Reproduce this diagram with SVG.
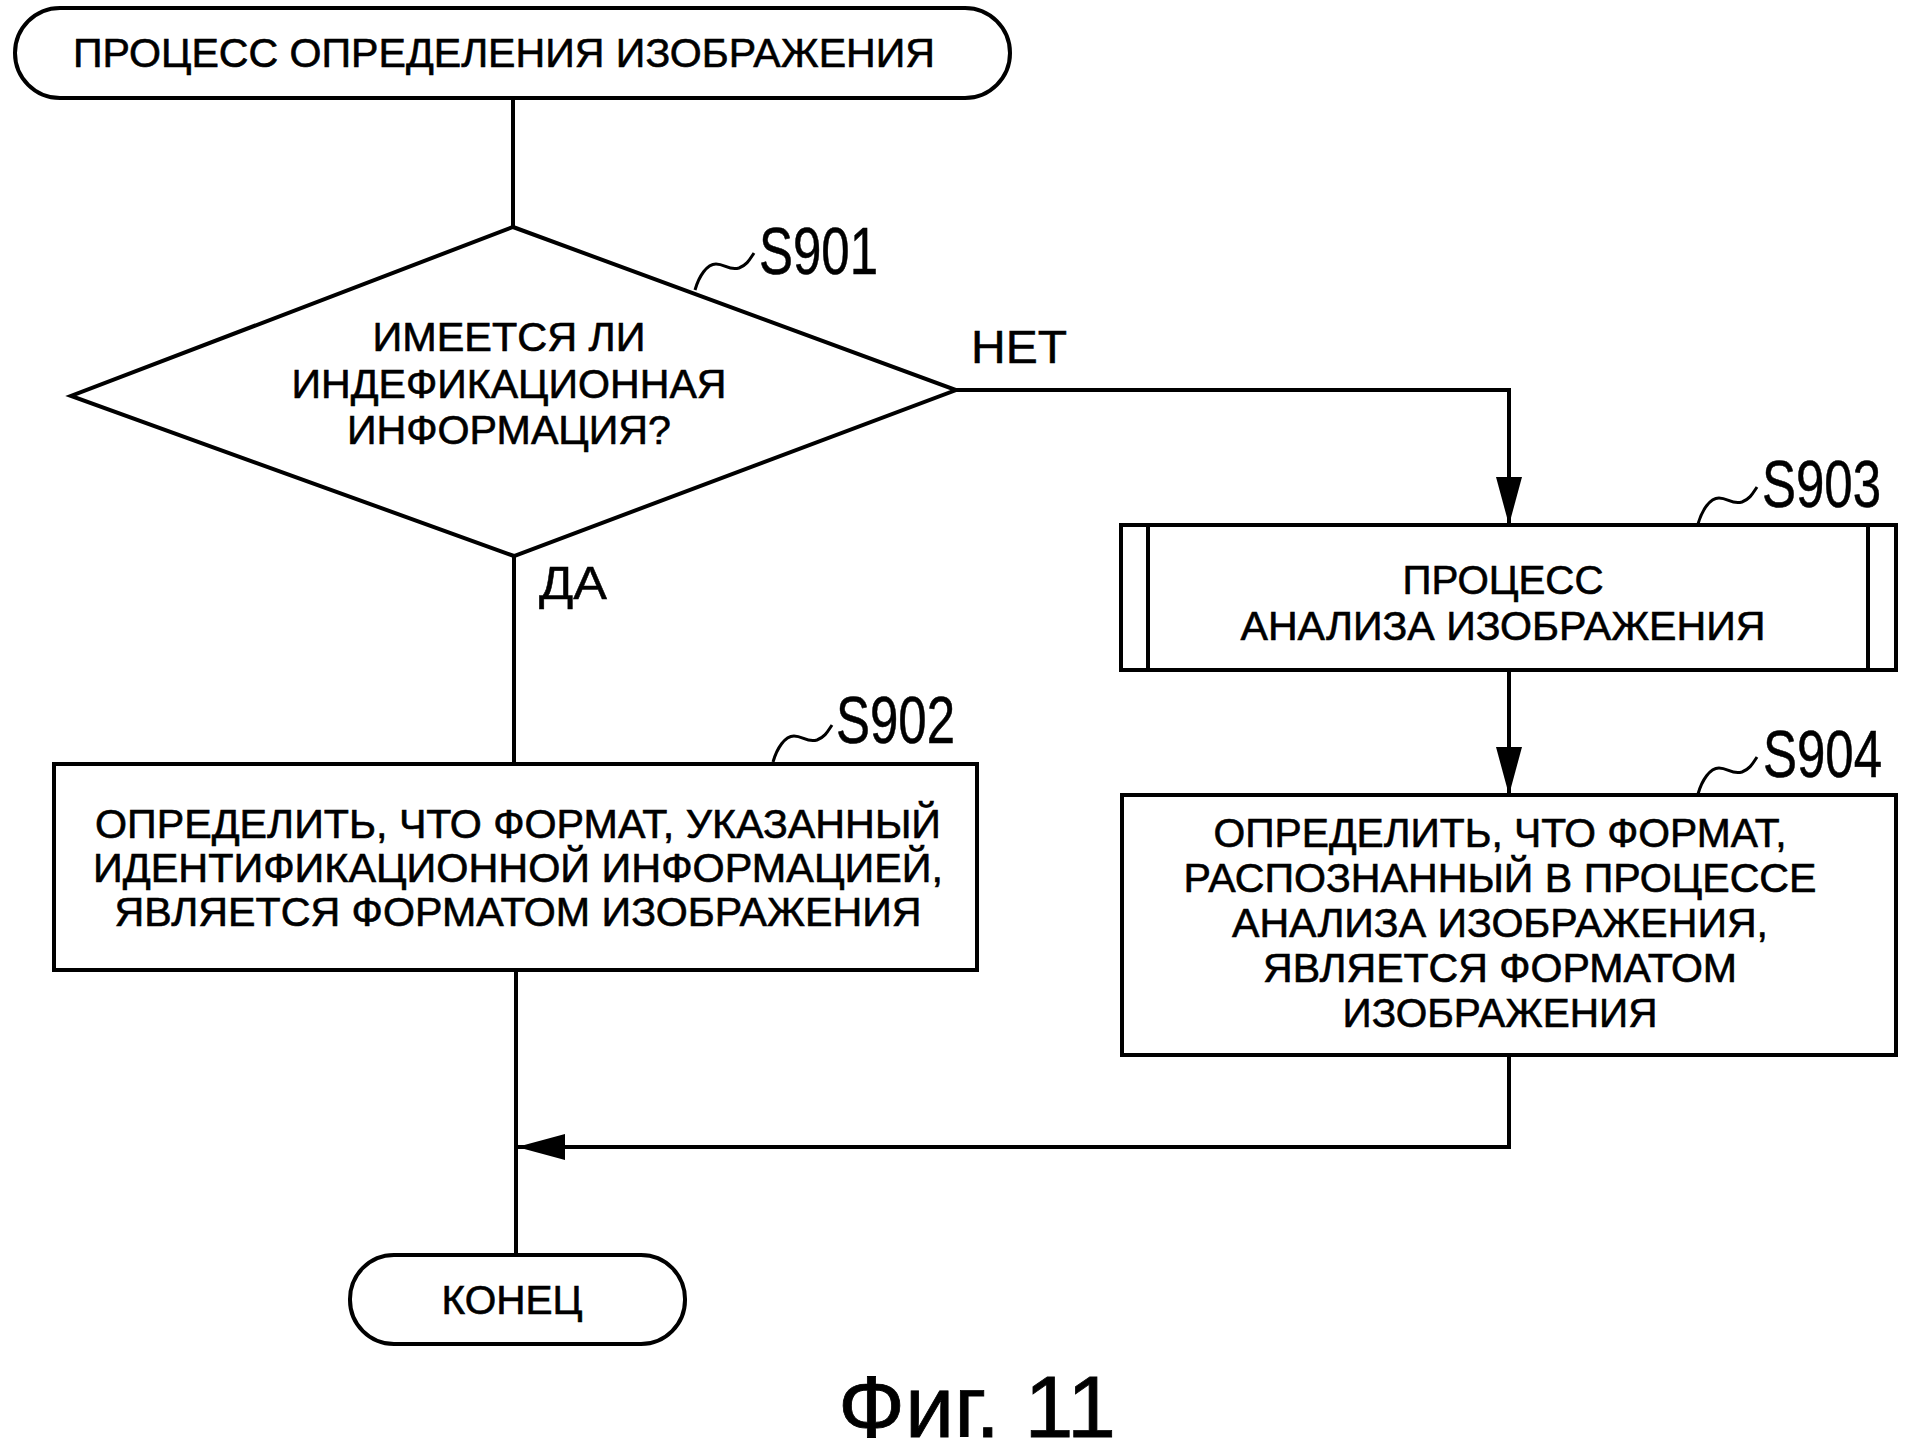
<svg xmlns="http://www.w3.org/2000/svg" width="1909" height="1454" viewBox="0 0 1909 1454">
<style>
.s{fill:#fff;stroke:#000;stroke-width:4}
.l{fill:none;stroke:#000;stroke-width:4}
.t{font-family:"Liberation Sans",Arial,sans-serif;font-size:40px;fill:#000;stroke:#000;stroke-width:0.6;text-anchor:middle}
.lab{font-family:"Liberation Sans",Arial,sans-serif;font-size:47px;fill:#000;stroke:#000;stroke-width:0.5}
.sid{font-family:"Liberation Sans",Arial,sans-serif;font-size:51px;fill:#000;stroke:#000;stroke-width:0.4}
.tl{fill:none;stroke:#000;stroke-width:3}
</style>
<defs>
<marker id="ah" viewBox="0 0 48 26" refX="48" refY="13" markerWidth="48" markerHeight="26" markerUnits="userSpaceOnUse" orient="auto">
<path d="M0,0 L48,13 L0,26 Z" fill="#000"/>
</marker>
</defs>
<rect width="1909" height="1454" fill="#fff"/>
<g id="connectors">
<path class="l" d="M513,98 L513,227"/>
<path class="l" d="M956,390 L1509,390 L1509,525" marker-end="url(#ah)"/>
<path class="l" d="M514,556 L514,764"/>
<path class="l" d="M516,970 L516,1255"/>
<path class="l" d="M1509,670 L1509,795" marker-end="url(#ah)"/>
<path class="l" d="M1509,1055 L1509,1147 L517,1147" marker-end="url(#ah)"/>
</g>
<g id="start">
<rect class="s" x="15" y="8" width="995" height="90" rx="45"/>
<text class="t" x="504" y="67" textLength="862" lengthAdjust="spacingAndGlyphs">ПРОЦЕСС ОПРЕДЕЛЕНИЯ ИЗОБРАЖЕНИЯ</text>
</g>
<g id="S901">
<polygon class="s" points="513,227 956,390 514,556 71,396"/>
<text class="t" x="509" y="351" textLength="273" lengthAdjust="spacingAndGlyphs">ИМЕЕТСЯ ЛИ</text>
<text class="t" x="509" y="398" textLength="435" lengthAdjust="spacingAndGlyphs">ИНДЕФИКАЦИОННАЯ</text>
<text class="t" x="509" y="444" textLength="324" lengthAdjust="spacingAndGlyphs">ИНФОРМАЦИЯ?</text>
<path class="tl" d="M695,290 C699,276 707,264 716,264 C725,264 729,271 739,268 C747,265 750,259 754,253"/>
<text class="sid" transform="translate(759,274) scale(1,1.3)">S901</text>
</g>
<g id="labels">
<text class="lab" x="971" y="363" textLength="96" lengthAdjust="spacingAndGlyphs">НЕТ</text>
<text class="lab" x="539" y="599" textLength="68" lengthAdjust="spacingAndGlyphs">ДА</text>
</g>
<g id="S902">
<rect class="s" x="54" y="764" width="923" height="206"/>
<text class="t" x="518" y="838" textLength="846" lengthAdjust="spacingAndGlyphs">ОПРЕДЕЛИТЬ, ЧТО ФОРМАТ, УКАЗАННЫЙ</text>
<text class="t" x="518" y="882" textLength="850" lengthAdjust="spacingAndGlyphs">ИДЕНТИФИКАЦИОННОЙ ИНФОРМАЦИЕЙ,</text>
<text class="t" x="518" y="926" textLength="807" lengthAdjust="spacingAndGlyphs">ЯВЛЯЕТСЯ ФОРМАТОМ ИЗОБРАЖЕНИЯ</text>
<path class="tl" d="M773,762 C777,748 785,736 794,736 C803,736 807,743 817,740 C825,737 828,731 832,725"/>
<text class="sid" transform="translate(836,743) scale(1,1.3)">S902</text>
</g>
<g id="S903">
<rect class="s" x="1121" y="525" width="775" height="145"/>
<path class="l" d="M1148,525 L1148,670 M1868,525 L1868,670"/>
<text class="t" x="1503" y="594" textLength="201" lengthAdjust="spacingAndGlyphs">ПРОЦЕСС</text>
<text class="t" x="1503" y="640" textLength="525" lengthAdjust="spacingAndGlyphs">АНАЛИЗА ИЗОБРАЖЕНИЯ</text>
<path class="tl" d="M1698,524 C1702,510 1710,498 1719,498 C1728,498 1732,505 1742,502 C1750,499 1753,493 1757,487"/>
<text class="sid" transform="translate(1762,507) scale(1,1.3)">S903</text>
</g>
<g id="S904">
<rect class="s" x="1122" y="795" width="774" height="260"/>
<text class="t" x="1500" y="847" textLength="573" lengthAdjust="spacingAndGlyphs">ОПРЕДЕЛИТЬ, ЧТО ФОРМАТ,</text>
<text class="t" x="1500" y="892" textLength="633" lengthAdjust="spacingAndGlyphs">РАСПОЗНАННЫЙ В ПРОЦЕССЕ</text>
<text class="t" x="1500" y="937" textLength="536" lengthAdjust="spacingAndGlyphs">АНАЛИЗА ИЗОБРАЖЕНИЯ,</text>
<text class="t" x="1500" y="982" textLength="474" lengthAdjust="spacingAndGlyphs">ЯВЛЯЕТСЯ ФОРМАТОМ</text>
<text class="t" x="1500" y="1027" textLength="315" lengthAdjust="spacingAndGlyphs">ИЗОБРАЖЕНИЯ</text>
<path class="tl" d="M1698,794 C1702,780 1710,768 1719,768 C1728,768 1732,775 1742,772 C1750,769 1753,763 1757,757"/>
<text class="sid" transform="translate(1763,777) scale(1,1.3)">S904</text>
</g>
<g id="end">
<rect class="s" x="350" y="1255" width="335" height="89" rx="44"/>
<text class="t" x="512" y="1314" textLength="141" lengthAdjust="spacingAndGlyphs">КОНЕЦ</text>
</g>
<text x="838" y="1437" font-family="Liberation Sans, Arial, sans-serif" font-size="88" stroke="#000" stroke-width="0.8" textLength="278" lengthAdjust="spacingAndGlyphs">Фиг. 11</text>
</svg>
